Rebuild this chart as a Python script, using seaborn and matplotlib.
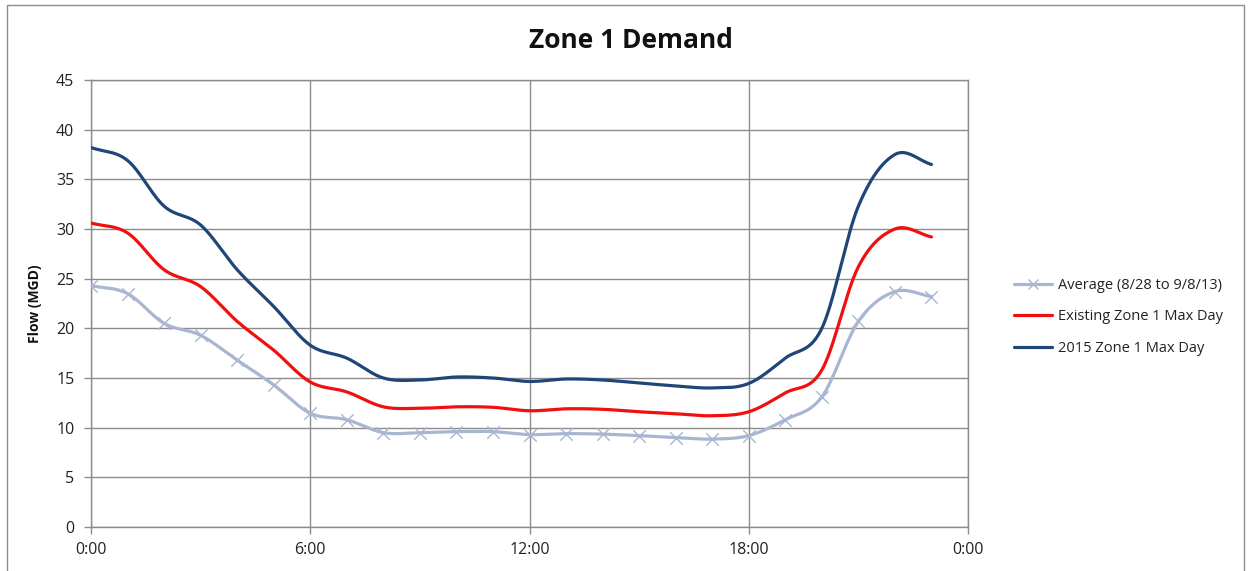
import numpy as np
import pandas as pd
import matplotlib
matplotlib.use("Agg")
import matplotlib.pyplot as plt
from matplotlib.lines import Line2D
from matplotlib.patches import Rectangle
import seaborn as sns

# Hourly flow, MGD (hour 0 = midnight)
hours = list(range(24))
average_flow = [24.3, 23.5, 20.5, 19.3, 16.8, 14.3, 11.45, 10.8, 9.5, 9.5, 9.6, 9.6,
                9.3, 9.4, 9.35, 9.2, 9.0, 8.85, 9.2, 10.8, 13.1, 20.7, 23.7, 23.2]
existing_max_day = [30.6, 29.6, 25.9, 24.2, 20.7, 17.8, 14.6, 13.6, 12.1, 11.95, 12.1, 12.05,
                    11.7, 11.9, 11.85, 11.6, 11.4, 11.2, 11.6, 13.5, 15.8, 26.2, 30.0, 29.2]
max_day_2015 = [38.2, 36.9, 32.3, 30.4, 25.9, 22.2, 18.3, 17.0, 15.0, 14.8, 15.1, 15.0,
                14.65, 14.9, 14.8, 14.5, 14.2, 14.0, 14.45, 17.0, 20.0, 32.3, 37.5, 36.5]

series_names = ["Average (8/28 to 9/8/13)", "Existing Zone 1 Max Day", "2015 Zone 1 Max Day"]
series_values = [average_flow, existing_max_day, max_day_2015]
series_colors = ["#A8B6D2", "#F01010", "#1F4677"]

x_ticks = [0, 6, 12, 18, 24]
x_tick_labels = ["0:00", "6:00", "12:00", "18:00", "0:00"]
y_ticks = list(range(0, 50, 5))


def smooth_curve(x, y, steps=30):
    """Catmull-Rom spline through the points, like a smoothed office chart line."""
    x = np.asarray(x, float)
    y = np.asarray(y, float)
    px = np.concatenate([[2 * x[0] - x[1]], x, [2 * x[-1] - x[-2]]])
    py = np.concatenate([[2 * y[0] - y[1]], y, [2 * y[-1] - y[-2]]])
    out_x, out_y = [], []
    t = np.linspace(0, 1, steps, endpoint=False)
    for i in range(1, len(px) - 2):
        for p, out in ((px, out_x), (py, out_y)):
            p0, p1, p2, p3 = p[i - 1], p[i], p[i + 1], p[i + 2]
            out.extend(0.5 * ((2 * p1) + (-p0 + p2) * t
                              + (2 * p0 - 5 * p1 + 4 * p2 - p3) * t ** 2
                              + (-p0 + 3 * p1 - 3 * p2 + p3) * t ** 3))
    out_x.append(x[-1])
    out_y.append(y[-1])
    return np.array(out_x), np.array(out_y)


sns.set_theme(style="white")
plt.rcParams["font.family"] = ["Open Sans", "DejaVu Sans"]

fig = plt.figure(figsize=(12.5, 5.71), dpi=100)
ax = fig.add_axes([91 / 1250, 1 - 527 / 571, 877 / 1250, 447 / 571])

frames = []
for name, vals in zip(series_names, series_values):
    sx, sy = smooth_curve(hours, vals)
    frames.append(pd.DataFrame({"hour": sx, "flow": sy, "series": name}))
curves = pd.concat(frames, ignore_index=True)

palette = dict(zip(series_names, series_colors))
sns.lineplot(data=curves, x="hour", y="flow", hue="series", palette=palette,
             linewidth=2.3, sort=False, estimator=None, legend=False, ax=ax, zorder=3)

avg_df = pd.DataFrame({"hour": hours, "flow": average_flow})
sns.scatterplot(data=avg_df, x="hour", y="flow", marker="x", s=80, linewidth=1.0,
                color=series_colors[0], ax=ax, zorder=4, legend=False)

ax.set_xlim(0, 24)
ax.set_ylim(0, 45)
ax.set_xticks(x_ticks)
ax.set_xticklabels(x_tick_labels)
ax.set_yticks(y_ticks)
ax.grid(True, color="#8C8C8C", linewidth=1.0)
ax.set_axisbelow(True)
for side in ["left", "bottom", "right", "top"]:
    ax.spines[side].set_color("#8C8C8C")
    ax.spines[side].set_linewidth(1.0)
ax.tick_params(axis="both", which="major", direction="out", length=5, width=1.0,
               color="#8C8C8C", labelsize=11.5, labelcolor="#222222",
               left=True, bottom=True)
ax.tick_params(axis="y", pad=7)
ax.tick_params(axis="x", pad=6)
ax.set_xlabel("")
ax.set_ylabel("Flow (MGD)", fontsize=10, fontweight="bold", color="#111111")
ax.yaxis.set_label_coords(-49 / 877, 0.5)

fig.text(631 / 1250, 1 - 40 / 571, "Zone 1 Demand", ha="center", va="center",
         fontsize=19, fontweight="bold", color="#111111")

handles = [
    Line2D([], [], color=series_colors[0], lw=2.3, marker="x", markersize=7, mew=1.0),
    Line2D([], [], color=series_colors[1], lw=2.3),
    Line2D([], [], color=series_colors[2], lw=2.3),
]
fig.legend(handles, series_names, loc="center left",
           bbox_to_anchor=(1001 / 1250, 1 - 317 / 571), frameon=False,
           fontsize=10.5, handlelength=2.6, handletextpad=0.4, labelspacing=1.15,
           labelcolor="#222222")

# outer chart border
fig.patches.append(Rectangle((7 / 1250, -0.01), 1237 / 1250, 1 - 5 / 571 + 0.01,
                             transform=fig.transFigure, fill=False,
                             edgecolor="#8C8C8C", linewidth=1.0))

fig.savefig("out.png", dpi=100, facecolor="white")
